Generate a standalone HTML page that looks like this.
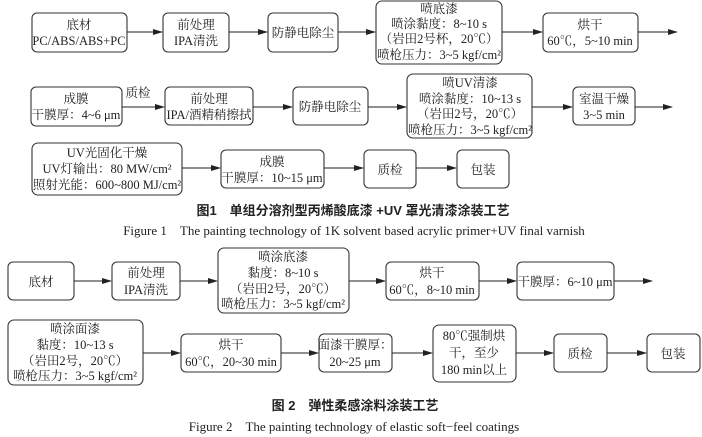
<!DOCTYPE html>
<html><head><meta charset="utf-8"><style>
html,body{margin:0;padding:0;background:#fff;}
svg{display:block;}
text{font-family:"Liberation Serif","Noto Serif CJK SC",serif;font-size:12.5px;fill:#222;text-anchor:middle;}
.b{font-family:"Liberation Sans","Noto Sans CJK SC",sans-serif;font-weight:bold;font-size:13px;}
.c{font-size:13px;}
rect{fill:#fff;stroke:#333;stroke-width:1.1;}
line{stroke:#222;stroke-width:1.1;marker-end:url(#a);}
</style></head><body>
<svg width="702" height="437" viewBox="0 0 702 437" xmlns="http://www.w3.org/2000/svg">
<defs><marker id="a" markerWidth="10" markerHeight="6" refX="9" refY="3" orient="auto" markerUnits="userSpaceOnUse"><path d="M0,0 L10,3 L0,6 z" fill="#222"/></marker></defs>

<rect x="32" y="13" width="95" height="39" rx="5"/>
<text x="79" y="29">底材</text><text x="79" y="45">PC/ABS/ABS+PC</text>
<line x1="127" y1="32" x2="162" y2="32"/>
<rect x="163" y="13" width="66" height="39" rx="5"/>
<text x="196" y="29">前处理</text><text x="196" y="45">IPA清洗</text>
<line x1="229" y1="32" x2="267" y2="32"/>
<rect x="268" y="13" width="70" height="39" rx="5"/>
<text x="303" y="37">防静电除尘</text>
<line x1="338" y1="32" x2="375" y2="32"/>
<rect x="376" y="1" width="126" height="63" rx="6"/>
<text x="439" y="13">喷底漆</text><text x="439" y="28">喷涂黏度：8~10 s</text><text x="439" y="43">（岩田2号杯，20℃）</text><text x="439" y="59">喷枪压力：3~5 kgf/cm²</text>
<line x1="502" y1="32" x2="542" y2="32"/>
<rect x="543" y="13" width="95" height="39" rx="5"/>
<text x="590" y="29">烘干</text><text x="590" y="45">60℃，5~10 min</text>
<line x1="638" y1="32" x2="677" y2="32"/>

<rect x="31" y="87" width="91" height="39" rx="5"/>
<text x="76" y="103">成膜</text><text x="76" y="119">干膜厚：4~6 μm</text>
<text x="138" y="97">质检</text>
<line x1="122" y1="107" x2="164" y2="107"/>
<rect x="165" y="87" width="88" height="38" rx="5"/>
<text x="209" y="103">前处理</text><text x="209" y="119">IPA/酒精稍擦拭</text>
<line x1="253" y1="107" x2="292" y2="107"/>
<rect x="293" y="87" width="75" height="38" rx="5"/>
<text x="330" y="111">防静电除尘</text>
<line x1="368" y1="107" x2="406" y2="107"/>
<rect x="407" y="74" width="125" height="64" rx="6"/>
<text x="470" y="87">喷UV清漆</text><text x="470" y="103">喷涂黏度：10~13 s</text><text x="470" y="118">（岩田2号，20℃）</text><text x="470" y="134">喷枪压力：3~5 kgf/cm²</text>
<line x1="532" y1="107" x2="572" y2="107"/>
<rect x="573" y="87" width="62" height="38" rx="5"/>
<text x="604" y="103">室温干燥</text><text x="604" y="119">3~5 min</text>
<line x1="635" y1="107" x2="672" y2="107"/>

<rect x="32" y="143" width="150" height="52" rx="6"/>
<text x="107" y="157">UV光固化干燥</text><text x="107" y="173">UV灯输出：80 MW/cm²</text><text x="107" y="189">照射光能：600~800 MJ/cm²</text>
<line x1="182" y1="168" x2="220" y2="168"/>
<rect x="221" y="150" width="103" height="38" rx="5"/>
<text x="272" y="166">成膜</text><text x="272" y="182">干膜厚：10~15 μm</text>
<line x1="324" y1="168" x2="363" y2="168"/>
<rect x="364" y="150" width="52" height="38" rx="5"/>
<text x="390" y="174">质检</text>
<line x1="416" y1="168" x2="456" y2="168"/>
<rect x="457" y="150" width="52" height="38" rx="5"/>
<text x="483" y="174">包装</text>

<text class="b" x="353" y="215">图1　单组分溶剂型丙烯酸底漆 +UV 罩光清漆涂装工艺</text>
<text class="c" x="354" y="235">Figure 1　The painting technology of 1K solvent based acrylic primer+UV final varnish</text>

<rect x="8" y="262" width="66" height="38" rx="5"/>
<text x="41" y="286">底材</text>
<line x1="74" y1="281" x2="111" y2="281"/>
<rect x="112" y="262" width="68" height="38" rx="5"/>
<text x="146" y="277">前处理</text><text x="146" y="294">IPA清洗</text>
<line x1="180" y1="281" x2="217" y2="281"/>
<rect x="218" y="248" width="131" height="65" rx="6"/>
<text x="283" y="261">喷涂底漆</text><text x="283" y="277">黏度：8~10 s</text><text x="283" y="293">（岩田2号，20℃）</text><text x="283" y="308">喷枪压力：3~5 kgf/cm²</text>
<line x1="349" y1="281" x2="385" y2="281"/>
<rect x="386" y="262" width="93" height="38" rx="5"/>
<text x="432" y="277">烘干</text><text x="432" y="294">60℃，8~10 min</text>
<line x1="479" y1="281" x2="516" y2="281"/>
<rect x="517" y="262" width="97" height="38" rx="5"/>
<text x="565" y="286">干膜厚：6~10 μm</text>
<line x1="614" y1="281" x2="652" y2="281"/>

<rect x="8" y="320" width="135" height="65" rx="6"/>
<text x="75" y="333">喷涂面漆</text><text x="75" y="349">黏度：10~13 s</text><text x="75" y="365">（岩田2号，20℃）</text><text x="75" y="380">喷枪压力：3~5 kgf/cm²</text>
<line x1="143" y1="353" x2="180" y2="353"/>
<rect x="181" y="334" width="100" height="38" rx="5"/>
<text x="231" y="349">烘干</text><text x="231" y="366">60℃，20~30 min</text>
<line x1="281" y1="353" x2="318" y2="353"/>
<rect x="319" y="334" width="73" height="38" rx="5"/>
<text x="355" y="349">面漆干膜厚：</text><text x="355" y="366">20~25 μm</text>
<line x1="392" y1="353" x2="432" y2="353"/>
<rect x="433" y="325" width="83" height="57" rx="6"/>
<text x="474" y="340">80℃强制烘</text><text x="474" y="357">干，至少</text><text x="474" y="374">180 min以上</text>
<line x1="516" y1="353" x2="553" y2="353"/>
<rect x="554" y="334" width="53" height="38" rx="5"/>
<text x="580" y="358">质检</text>
<line x1="607" y1="353" x2="646" y2="353"/>
<rect x="647" y="334" width="53" height="38" rx="5"/>
<text x="673" y="358">包装</text>

<text class="b" x="355" y="410">图 2　弹性柔感涂料涂装工艺</text>
<text class="c" x="354" y="431">Figure 2　The painting technology of elastic soft−feel coatings</text>
</svg>
</body></html>
